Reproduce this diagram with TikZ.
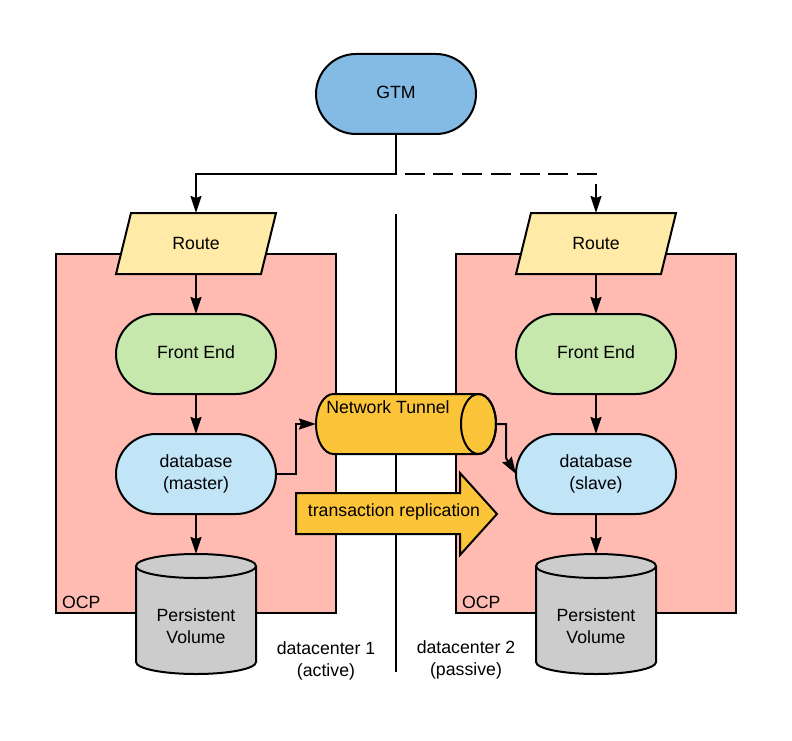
\documentclass[tikz,border=0pt]{standalone}
\usepackage{fontspec}
\setmainfont{Liberation Sans}
\usetikzlibrary{arrows.meta}
\definecolor{gtmblue}{HTML}{83BBE5}
\definecolor{routey}{HTML}{FFEAA8}
\definecolor{feg}{HTML}{C7E8AC}
\definecolor{dbb}{HTML}{C1E4F7}
\definecolor{tunor}{HTML}{FCC438}
\definecolor{ocpp}{HTML}{FFBBB1}
\definecolor{pvg}{HTML}{CCCCCC}
\begin{document}
\begin{tikzpicture}[x=1pt,y=1pt,
  every node/.style={font=\fontsize{17.7}{22}\selectfont, inner sep=0pt, outer sep=0pt},
  ln/.style={line width=2pt, draw=black},
  pill/.style={ln, minimum width=160pt, minimum height=80pt, rounded corners=40pt, align=center},
  oneline/.style={text depth=4pt},
  ocpbox/.style={ln, fill=ocpp, minimum width=280pt, minimum height=359pt},
  arr/.style={ln, -{Stealth[length=17pt,width=11pt,inset=2pt]}},
  lbl/.style={align=center}
]
\useasboundingbox (0,0) rectangle (792,-741);

% separator
\draw[ln] (396,-214) -- (396,-672);

% OCP boxes
\node[ocpbox] (ocp1) at (196,-433.5) {};
\node[ocpbox] (ocp2) at (596,-433.5) {};
\node[anchor=base west] (ocpl1) at (62,-608) {OCP};
\node[anchor=base west] (ocpl2) at (462,-608) {OCP};

% GTM
\node[pill, oneline, fill=gtmblue] (gtm) at (396,-94) {GTM};

% Routes
\draw[ln, fill=routey] (131,-213) -- (276,-213) -- (261,-274) -- (116,-274) -- cycle;
\draw[ln, fill=routey] (531,-213) -- (676,-213) -- (661,-274) -- (516,-274) -- cycle;
\node[minimum width=160pt, minimum height=61pt] (r1) at (196,-243.5) {Route};
\node[minimum width=160pt, minimum height=61pt] (r2) at (596,-243.5) {Route};

% Front ends
\node[pill, oneline, fill=feg] (fe1) at (196,-354) {Front End};
\node[pill, oneline, fill=feg] (fe2) at (596,-354) {Front End};

% Databases
\node[pill, fill=dbb] (db1) at (196,-474) {database\\(master)};
\node[pill, fill=dbb] (db2) at (596,-474) {database\\(slave)};

% Persistent volumes
\foreach \cx in {196,596}{
  \draw[ln, fill=pvg] (\cx-60,-566) arc (180:0:60 and 12) -- (\cx+60,-662)
     arc (0:-180:60 and 12) -- cycle;
  \draw[ln] (\cx-60,-566) arc (180:360:60 and 12);
}
\node[minimum width=120pt, minimum height=120pt] (pv1) at (196,-614) {};
\node[minimum width=120pt, minimum height=120pt] (pv2) at (596,-614) {};
\node[lbl] (pvt1) at (196,-626) {Persistent\\Volume};
\node[lbl] (pvt2) at (596,-626) {Persistent\\Volume};

% Network tunnel
\draw[ln, fill=tunor] (333.5,-394) -- (478.5,-394) arc (90:-90:17.5 and 30)
   -- (333.5,-454) arc (270:90:17.5 and 30) -- cycle;
\draw[ln] (478.5,-424) ellipse (17.5 and 30);
\node[minimum width=180pt, minimum height=60pt] (tun) at (406,-424) {};
\node (tunl) at (388,-407) {Network Tunnel};

% Transaction replication arrow
\draw[ln, fill=tunor] (296,-493) -- (460,-493) -- (460,-473) -- (497,-514)
   -- (460,-555) -- (460,-534) -- (296,-534) -- cycle;
\node (trep) at (394,-512) {transaction replication};

% datacenter labels
\node[lbl] (dc1) at (326,-661) {datacenter 1\\(active)};
\node[lbl] (dc2) at (466,-660) {datacenter 2\\(passive)};

% connectors
\draw[arr] (gtm.south) -- ++(0,-40) -| (r1.north);
\draw[arr, dash pattern=on 20pt off 8.7pt, dash phase=8.7pt] (gtm.south) -- ++(0,-40) -| (r2.north);
\draw[arr] (r1.south) -- (fe1.north);
\draw[arr] (r2.south) -- (fe2.north);
\draw[arr] (fe1.south) -- (db1.north);
\draw[arr] (fe2.south) -- (db2.north);
\draw[arr] (db1.south) -- (pv1.north);
\draw[arr] (db2.south) -- (pv2.north);
\draw[arr] (db1.east) -- ++(20,0) |- (tun.west);
\draw[arr] (tun.east) -- ++(10,0) -- ++(0,-34) -- (db2.west);
\end{tikzpicture}
\end{document}
